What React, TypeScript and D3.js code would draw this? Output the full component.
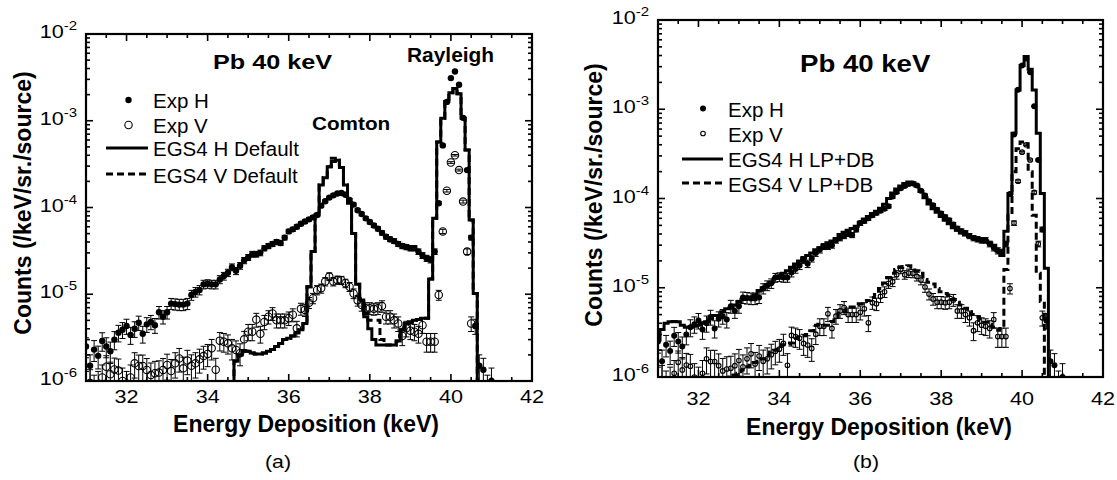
import React from "react";
import * as d3 from "d3";

const FONT = "'Liberation Sans', Arial, Helvetica, sans-serif";

// ---------------- data ----------------
const BIN = 0.1; // keV bin width of spectra

// Experimental spectra (same measurement in both panels), starting at 31.0 keV
const EXP_START = 31.0;
const expH = [
  2.5e-6, 1.5e-6, 2.3e-6, 1.95e-6, 2.9e-6, 2.5e-6, 2.2e-6, 3.0e-6, 3.6e-6, 3.9e-6,
  4.3e-6, 3.4e-6, 4.0e-6, 4.7e-6, 3.5e-6, 4.5e-6, 4.8e-6, 4.4e-6, 6.2e-6, 5.5e-6,
  6.2e-6, 7.8e-6, 7.7e-6, 7.6e-6, 7.6e-6, 7.8e-6, 9.8e-6, 1.06e-5, 1.12e-5, 1.3e-5,
  1.32e-5, 1.3e-5, 1.3e-5, 1.48e-5, 1.62e-5, 1.77e-5, 2.05e-5, 1.86e-5, 2.13e-5, 2.45e-5,
  2.66e-5, 2.9e-5, 2.9e-5, 3.0e-5, 3.4e-5, 3.6e-5, 3.8e-5, 4.0e-5, 3.9e-5, 4.5e-5,
  5.3e-5, 5.6e-5, 6.0e-5, 6.5e-5, 6.9e-5, 7.3e-5, 7.7e-5, 8.2e-5, 1.05e-4, 1.18e-4,
  1.3e-4, 1.38e-4, 1.45e-4, 1.47e-4, 1.4e-4, 1.22e-4, 1.08e-4, 9.3e-5, 8.4e-5, 7.5e-5,
  6.8e-5, 6.2e-5, 5.7e-5, 5.1e-5, 4.6e-5, 4.3e-5, 4.1e-5, 3.8e-5, 3.6e-5, 3.5e-5,
  3.4e-5, 3.4e-5, 3.1e-5, 2.8e-5, 2.6e-5, 2.5e-5, 3.1e-5, 1.12e-4, 5.2e-4, 1.65e-3,
  3.1e-3, 3.7e-3, 2.6e-3, 1.08e-3, 2.7e-4, 4.5e-5, 4.3e-6, 1.5e-6, 1.35e-6, 8e-7,
  1.0e-6,
];
const expV = [
  9e-7, 9.5e-7, 8e-7, 9e-7, 1.1e-6, 1.46e-6, 1.2e-6, 1.36e-6, 1.32e-6, 1.0e-6,
  9e-7, 1.1e-6, 1.6e-6, 1.49e-6, 1.49e-6, 1.34e-6, 1.17e-6, 1.23e-6, 1.25e-6, 1.34e-6,
  1.53e-6, 1.3e-6, 1.6e-6, 1.82e-6, 1.4e-6, 1.72e-6, 1.5e-6, 1.6e-6, 1.78e-6, 1.94e-6,
  2.05e-6, 2.38e-6, 1.35e-6, 2.92e-6, 2.84e-6, 2.72e-6, 2.38e-6, 2.28e-6, 2.09e-6, 3.02e-6,
  3.7e-6, 3.7e-6, 5.1e-6, 3.5e-6, 4.8e-6, 5.5e-6, 6.0e-6, 5.0e-6, 5.0e-6, 5.0e-6,
  5.3e-6, 5.8e-6, 4.05e-6, 6.8e-6, 6.6e-6, 8.0e-6, 9.0e-6, 1.12e-5, 1.17e-5, 1.4e-5,
  1.6e-5, 1.4e-5, 1.46e-5, 1.45e-5, 1.34e-5, 1.22e-5, 1.02e-5, 8.5e-6, 7.5e-6, 6.9e-6,
  6.9e-6, 6.8e-6, 6.9e-6, 7.3e-6, 5.5e-6, 5.5e-6, 5.0e-6, 4.6e-6, 3.3e-6, 4.05e-6,
  3.8e-6, 3.7e-6, 3.5e-6, 4.4e-6, 2.84e-6, 2.84e-6, 2.84e-6, 9.8e-6, 5.3e-5, 1.56e-4,
  3.3e-4, 4.0e-4, 2.7e-4, 1.17e-4, 3.1e-5, 4.6e-6,
];

// EGS4 default simulation (panel a), starting at 34.6 keV
const DEF_START = 34.6;
const egsHDefault = [
  5e-7, 1.7e-6, 2.0e-6, 2.2e-6, 2.2e-6, 2.1e-6, 2.05e-6, 2.05e-6, 2.1e-6, 2.2e-6,
  2.3e-6, 2.5e-6, 2.7e-6, 3.0e-6, 3.1e-6, 3.3e-6, 3.6e-6, 3.9e-6, 4.6e-6, 1.22e-5,
  3.1e-5, 8.2e-5, 1.82e-4, 2.2e-4, 2.95e-4, 3.4e-4, 3.5e-4, 2.9e-4, 1.82e-4, 1.12e-4,
  5.0e-5, 1.3e-5, 8.6e-6, 5.5e-6, 4.0e-6, 3.0e-6, 2.6e-6, 2.6e-6, 2.6e-6, 2.6e-6,
  2.6e-6, 2.9e-6, 3.9e-6, 4.6e-6, 4.8e-6, 5.0e-6, 5.1e-6, 5.3e-6, 5.3e-6, 1.5e-5,
  7.5e-5, 5.7e-4, 1.07e-3, 1.67e-3, 2.1e-3, 2.35e-3, 2.05e-3, 1.07e-3, 4.6e-4, 7.2e-5,
  1.02e-5, 5e-7,
];
const egsVDefault = [
  5e-7, 1.7e-6, 2.0e-6, 2.2e-6, 2.2e-6, 2.1e-6, 2.05e-6, 2.05e-6, 2.1e-6, 2.2e-6,
  2.3e-6, 2.5e-6, 2.7e-6, 3.0e-6, 3.1e-6, 3.3e-6, 3.6e-6, 3.9e-6, 4.6e-6, 1.22e-5,
  3.1e-5, 8.2e-5, 1.82e-4, 2.2e-4, 2.95e-4, 3.7e-4, 3.5e-4, 2.9e-4, 1.82e-4, 1.12e-4,
  5.0e-5, 1.3e-5, 9e-6, 6e-6, 5e-6, 5e-6, 5e-6, 3.0e-6, 2.6e-6, 2.6e-6,
  2.6e-6, 2.9e-6, 3.9e-6, 4.6e-6, 4.8e-6, 5.0e-6, 5.1e-6, 5.3e-6, 5.3e-6, 1.5e-5,
  7.5e-5, 5.7e-4, 1.07e-3, 1.67e-3, 2.1e-3, 2.35e-3, 2.05e-3, 1.07e-3, 4.6e-4, 7.2e-5,
  1.02e-5, 5e-7,
];

// EGS4 LP+DB simulation (panel b)
const LPDB_H_START = 31.0;
const egsHLpDb = [
  2.6e-6, 3.4e-6, 4.0e-6, 4.15e-6, 4.2e-6, 4.15e-6, 3.8e-6, 3.6e-6, 3.6e-6, 3.7e-6,
  3.8e-6, 4.0e-6, 4.15e-6, 4.5e-6, 4.9e-6, 4.9e-6, 5.4e-6, 5.8e-6, 5.9e-6, 6.4e-6,
  7.0e-6, 7.4e-6, 7.7e-6, 7.9e-6, 8.3e-6, 9.3e-6, 1.0e-5, 1.08e-5, 1.15e-5, 1.27e-5,
  1.35e-5, 1.45e-5, 1.55e-5, 1.7e-5, 1.85e-5, 2.0e-5, 2.15e-5, 2.3e-5, 2.45e-5, 2.67e-5,
  2.8e-5, 3.0e-5, 3.2e-5, 3.35e-5, 3.55e-5, 3.95e-5, 4.2e-5, 4.4e-5, 4.6e-5, 4.9e-5,
  5.4e-5, 5.9e-5, 6.3e-5, 6.8e-5, 7.2e-5, 7.8e-5, 8.6e-5, 1.0e-4, 1.15e-4, 1.28e-4,
  1.38e-4, 1.47e-4, 1.53e-4, 1.5e-4, 1.38e-4, 1.2e-4, 1.02e-4, 8.7e-5, 7.7e-5, 7.0e-5,
  6.3e-5, 5.7e-5, 5.2e-5, 4.7e-5, 4.4e-5, 4.1e-5, 3.9e-5, 3.75e-5, 3.6e-5, 3.5e-5,
  3.4e-5, 3.35e-5, 3.2e-5, 3.0e-5, 2.6e-5, 2.3e-5, 4.3e-5, 1.14e-4, 5.4e-4, 1.64e-3,
  3.1e-3, 3.9e-3, 2.8e-3, 1.64e-3, 5.4e-4, 1.14e-4, 1.65e-5, 5e-7,
];
const LPDB_V_START = 32.7;
const egsVLpDb = [
  9e-7, 1.0e-6, 1.05e-6, 1.1e-6, 1.2e-6, 1.3e-6, 1.35e-6, 1.45e-6, 1.5e-6, 1.6e-6,
  1.75e-6, 1.9e-6, 2.0e-6, 2.2e-6, 2.3e-6, 2.35e-6, 2.4e-6, 2.7e-6, 2.8e-6, 2.9e-6,
  3.0e-6, 3.3e-6, 3.8e-6, 3.9e-6, 3.8e-6, 3.8e-6, 4.2e-6, 4.7e-6, 5.2e-6, 5.4e-6,
  5.8e-6, 6.1e-6, 6.4e-6, 6.6e-6, 7.0e-6, 7.2e-6, 7.8e-6, 8.4e-6, 9.8e-6, 1.13e-5,
  1.3e-5, 1.45e-5, 1.6e-5, 1.69e-5, 1.72e-5, 1.76e-5, 1.7e-5, 1.55e-5, 1.45e-5, 1.24e-5,
  1.15e-5, 1.1e-5, 9.8e-6, 9.0e-6, 8.6e-6, 8.3e-6, 7.4e-6, 6.9e-6, 6.4e-6, 5.9e-6,
  5.4e-6, 5.0e-6, 4.7e-6, 4.3e-6, 4.1e-6, 3.9e-6, 3.6e-6, 3.35e-6, 3.5e-6, 1.6e-5,
  6.5e-5, 2.0e-4, 3.6e-4, 4.3e-4, 4.1e-4, 2.0e-4, 6.5e-5, 1.45e-5, 7e-6, 5e-7,
];

const X_DOMAIN = [31, 42];
const Y_DOMAIN = [1e-6, 1e-2];
const xTickValues = [32, 34, 36, 38, 40, 42];
const yTickExponents = [-6, -5, -4, -3, -2];
const ERR_K = 4.1e-4; // statistical error scale (counting statistics)

const legendA = ["Exp H", "Exp V", "EGS4 H Default", "EGS4 V Default"];
const legendB = ["Exp H", "Exp V", "EGS4 H LP+DB", "EGS4 V LP+DB"];
const titleText = "Pb 40 keV";
const xTitle = "Energy Deposition (keV)";
const yTitle = "Counts (/keV/sr./source)";

// ---------------- helpers ----------------
type Pt = { e: number; v: number };
const toPts = (start: number, vals: number[]): Pt[] =>
  vals.map((v, i) => ({ e: start + i * BIN, v }));

function SText(props: {
  x: number; y: number; sx?: number; size: number; weight?: string | number;
  anchor?: string; rotate?: number; children: React.ReactNode;
}) {
  const { x, y, sx = 1, size, weight = "normal", anchor = "start", rotate, children } = props;
  let t = `translate(${x},${y})`;
  if (sx !== 1) t += ` scale(${sx},1)`;
  if (rotate) t += ` rotate(${rotate})`;
  return (
    <text transform={t} fontSize={size} fontWeight={weight as any} textAnchor={anchor as any}
      fontFamily={FONT} fill="#000">
      {children}
    </text>
  );
}

type PanelCfg = {
  id: string; x0: number; x1: number; y0: number; y1: number;
  hR: number; vR: number;
  simH: Pt[]; simV: Pt[];
  legendLabels: string[];
  mx: number; textX: number; rows: number[]; markerY: number[]; lineY: number[]; lineX: [number, number];
  title: { x: number; y: number; size: number; sx: number };
  notes: { text: string; x: number; y: number; size: number; sx: number }[];
  xLabelY: number; xTitleX: number; xTitleY: number; yTitleX: number; yTitleY: number;
  tag: { text: string; x: number; y: number };
};

function Panel({ c }: { c: PanelCfg }) {
  const x = d3.scaleLinear().domain(X_DOMAIN).range([c.x0, c.x1]);
  const y = d3.scaleLog().domain(Y_DOMAIN).range([c.y1, c.y0]);
  const clip = `clip-${c.id}`;

  const step = d3.line<Pt>()
    .x((d) => x(d.e))
    .y((d) => y(Math.max(d.v, 1e-8)))
    .curve(d3.curveStep);

  const hPts = toPts(EXP_START, expH);
  const vPts = toPts(EXP_START, expV);

  const xMinor = d3.range(31, 42.001, 0.5).filter((v) => !xTickValues.includes(v));
  const yMajor = yTickExponents.map((e) => Math.pow(10, e));
  const yMinor: number[] = [];
  yTickExponents.slice(0, -1).forEach((e) => {
    for (let k = 2; k <= 9; k++) yMinor.push(k * Math.pow(10, e));
  });

  const MAJ = 7, MIN = 4;
  const tickLines: JSX.Element[] = [];
  const addX = (v: number, len: number, key: string) => {
    const px = x(v);
    tickLines.push(<line key={"b" + key} x1={px} x2={px} y1={c.y1} y2={c.y1 - len} />);
    tickLines.push(<line key={"t" + key} x1={px} x2={px} y1={c.y0} y2={c.y0 + len} />);
  };
  const addY = (v: number, len: number, key: string) => {
    const py = y(v);
    tickLines.push(<line key={"l" + key} x1={c.x0} x2={c.x0 + len} y1={py} y2={py} />);
    tickLines.push(<line key={"r" + key} x1={c.x1} x2={c.x1 - len} y1={py} y2={py} />);
  };
  xTickValues.forEach((v) => addX(v, MAJ, "M" + v));
  xMinor.forEach((v) => addX(v, MIN, "m" + v));
  yMajor.forEach((v, i) => addY(v, MAJ, "M" + i));
  yMinor.forEach((v, i) => addY(v, MIN, "m" + i));

  const errBars = (pts: Pt[], cap: number, key: string) =>
    pts.map((d, i) => {
      const err = ERR_K * Math.sqrt(d.v);
      const yt = y(d.v + err);
      const yb = y(Math.max(d.v - err, 1e-9));
      const cx = x(d.e);
      return (
        <g key={key + i}>
          <line x1={cx} x2={cx} y1={yt} y2={yb} />
          <line x1={cx - cap} x2={cx + cap} y1={yt} y2={yt} />
          <line x1={cx - cap} x2={cx + cap} y1={yb} y2={yb} />
        </g>
      );
    });

  return (
    <g>
      <defs>
        <clipPath id={clip}>
          <rect x={c.x0} y={c.y0} width={c.x1 - c.x0} height={c.y1 - c.y0} />
        </clipPath>
      </defs>

      <g clipPath={`url(#${clip})`}>
        <g stroke="#000" strokeWidth={1}>
          {errBars(hPts, 3, "eh")}
          {errBars(vPts, 3, "ev")}
        </g>
        <path d={step(c.simV) || ""} fill="none" stroke="#000" strokeWidth={3} strokeDasharray="7,4" />
        <path d={step(c.simH) || ""} fill="none" stroke="#000" strokeWidth={3} />
        {vPts.map((d, i) => (
          <circle key={"v" + i} cx={x(d.e)} cy={y(d.v)} r={c.vR} fill="none" stroke="#000" strokeWidth={1.1} />
        ))}
        {hPts.map((d, i) => (
          <circle key={"h" + i} cx={x(d.e)} cy={y(d.v)} r={c.hR} fill="#000" />
        ))}
      </g>

      <g stroke="#000" strokeWidth={1.6}>{tickLines}</g>
      <rect x={c.x0} y={c.y0} width={c.x1 - c.x0} height={c.y1 - c.y0} fill="none" stroke="#000" strokeWidth={2.2} />

      {xTickValues.map((v) => (
        <SText key={"xl" + v} x={x(v)} y={c.xLabelY} size={18} sx={1.2} anchor="middle">{String(v)}</SText>
      ))}
      {yTickExponents.map((e) => (
        <SText key={"yl" + e} x={c.x0 - 9} y={y(Math.pow(10, e)) + 4} size={18} sx={1.2} anchor="end">
          <tspan>10</tspan>
          <tspan fontSize={12.5} dy={-8}>{String(e)}</tspan>
        </SText>
      ))}

      <SText x={c.xTitleX} y={c.xTitleY} size={23} weight="bold" anchor="middle">{xTitle}</SText>
      <SText x={c.yTitleX} y={c.yTitleY} size={23} weight="bold" anchor="middle" rotate={-90}>{yTitle}</SText>
      <SText x={c.tag.x} y={c.tag.y} size={18.5} sx={1.15} anchor="middle">{c.tag.text}</SText>

      <SText x={c.title.x} y={c.title.y} size={c.title.size} sx={c.title.sx} weight="bold">{titleText}</SText>
      {c.notes.map((n) => (
        <SText key={n.text} x={n.x} y={n.y} size={n.size} sx={n.sx} weight="bold">{n.text}</SText>
      ))}

      {/* legend */}
      <circle cx={c.mx} cy={c.markerY[0]} r={c.hR} fill="#000" />
      <circle cx={c.mx} cy={c.markerY[1]} r={c.vR} fill="none" stroke="#000" strokeWidth={1.1} />
      <line x1={c.lineX[0]} x2={c.lineX[1]} y1={c.lineY[0]} y2={c.lineY[0]} stroke="#000" strokeWidth={3} />
      <line x1={c.lineX[0]} x2={c.lineX[1]} y1={c.lineY[1]} y2={c.lineY[1]} stroke="#000" strokeWidth={3} strokeDasharray="7,4" />
      {c.legendLabels.map((t, i) => (
        <SText key={t} x={c.textX} y={c.rows[i]} size={20.5}>{t}</SText>
      ))}
    </g>
  );
}

const panelA: PanelCfg = {
  id: "a", x0: 86, x1: 532, y0: 34, y1: 381,
  hR: 3.2, vR: 3.7,
  simH: toPts(DEF_START, egsHDefault), simV: toPts(DEF_START, egsVDefault),
  legendLabels: legendA,
  mx: 128.5, textX: 153, rows: [108, 133, 156, 183], markerY: [100, 125], lineY: [148, 174], lineX: [106, 148],
  title: { x: 213, y: 69, size: 21, sx: 1.2 },
  notes: [
    { text: "Comton", x: 312, y: 130, size: 18.5, sx: 1.12 },
    { text: "Rayleigh", x: 407, y: 62, size: 20.5, sx: 1.02 },
  ],
  xLabelY: 403, xTitleX: 306, xTitleY: 432, yTitleX: 31, yTitleY: 203,
  tag: { text: "(a)", x: 278, y: 468 },
};

const panelB: PanelCfg = {
  id: "b", x0: 658, x1: 1103, y0: 20, y1: 377,
  hR: 3.0, vR: 2.3,
  simH: toPts(LPDB_H_START, egsHLpDb), simV: toPts(LPDB_V_START, egsVLpDb),
  legendLabels: legendB,
  mx: 703, textX: 728, rows: [117, 142, 167, 192], markerY: [108.5, 133.5], lineY: [159, 183], lineX: [682, 723],
  title: { x: 800, y: 72, size: 23, sx: 1.2 },
  notes: [],
  xLabelY: 405, xTitleX: 879, xTitleY: 435, yTitleX: 602, yTitleY: 195,
  tag: { text: "(b)", x: 866, y: 468 },
};

export default function App() {
  return (
    <svg width={1117} height={480} style={{ position: "absolute", left: 0, top: 0, background: "#fff" }}>
      <rect x={0} y={0} width={1117} height={480} fill="#fff" />
      <Panel c={panelA} />
      <Panel c={panelB} />
    </svg>
  );
}
